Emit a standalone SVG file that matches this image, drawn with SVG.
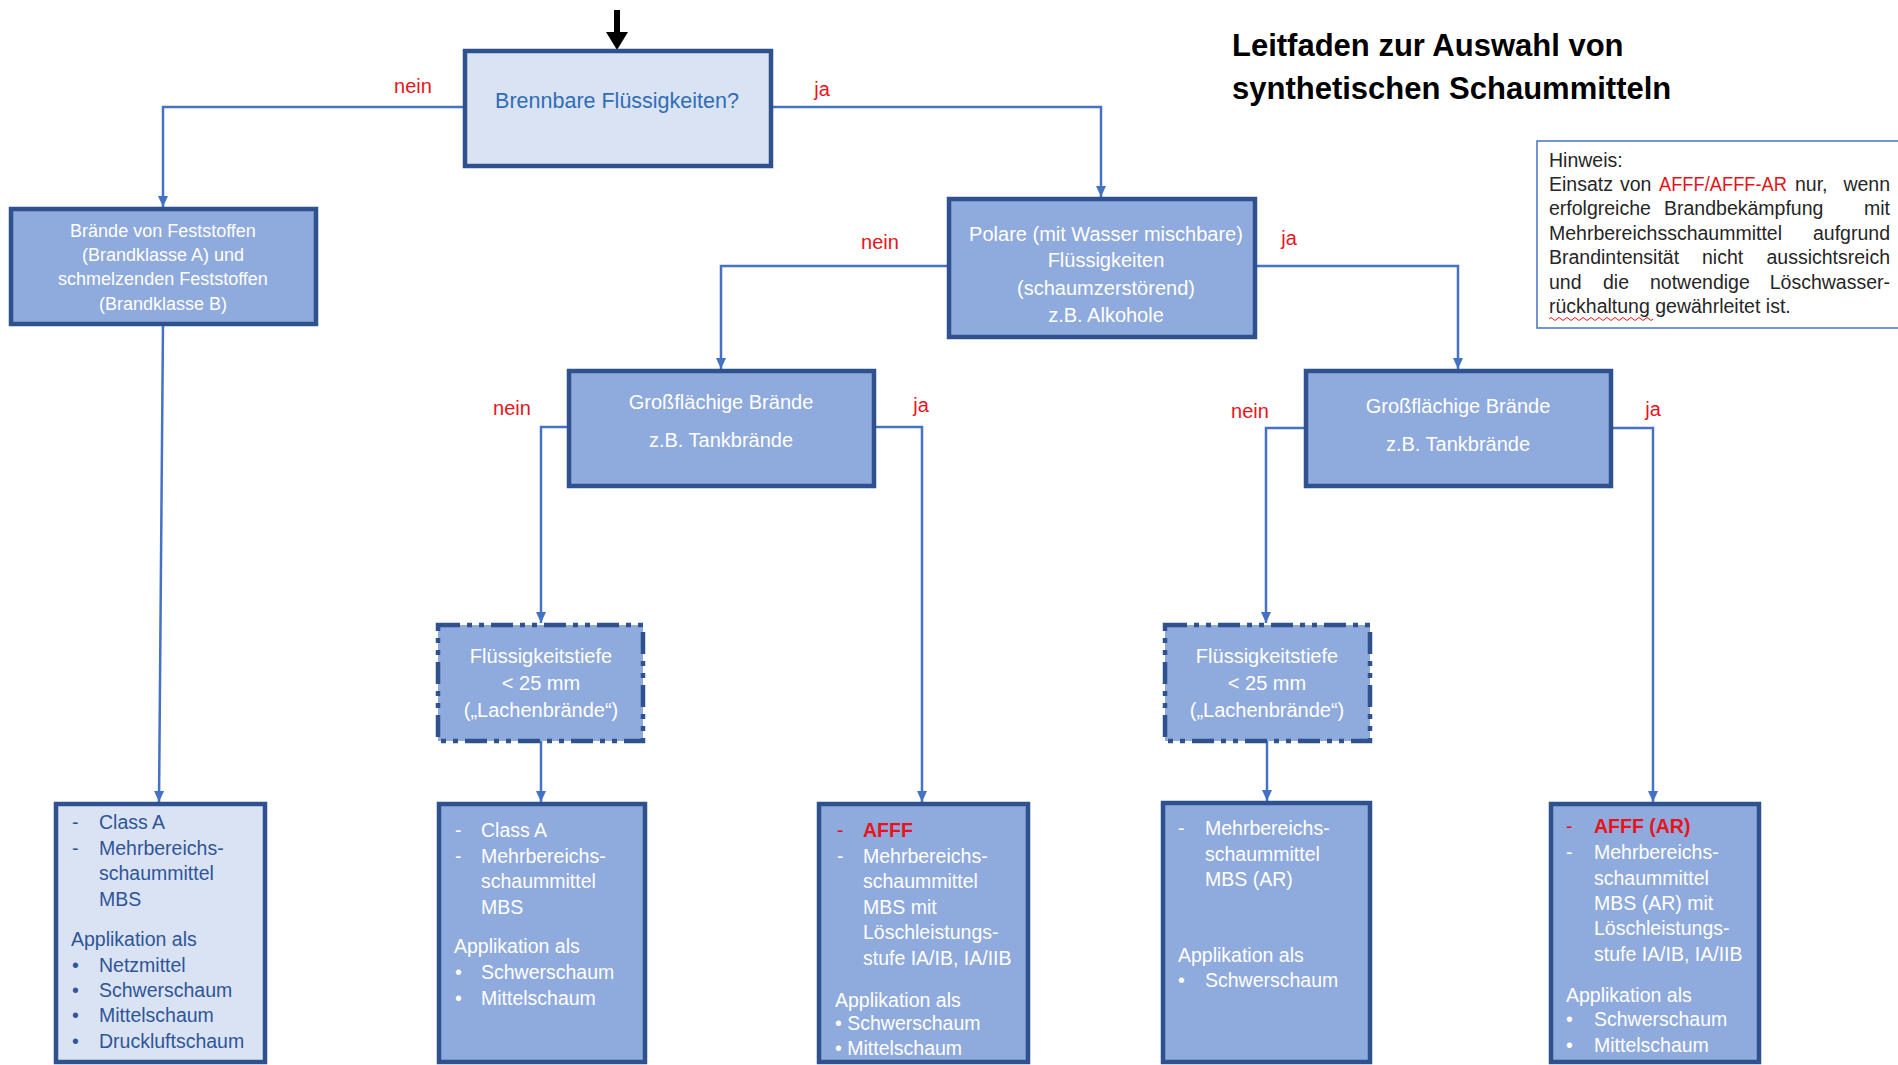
<svg xmlns="http://www.w3.org/2000/svg" width="1898" height="1065" viewBox="0 0 1898 1065">
<defs>
<marker id="arr" markerWidth="12" markerHeight="12" refX="11" refY="6" orient="auto" markerUnits="userSpaceOnUse">
<path d="M0,1 L11,6 L0,11 Z" fill="#4472c4"/>
</marker>
<style>
text{font-family:"Liberation Sans",Arial,sans-serif}
.box{fill:#8faadc;stroke:#2f528f;stroke-width:4.5}
.light{fill:#dae3f3;stroke:#2f528f;stroke-width:4.5}
.dash{fill:#8faadc;stroke:#2f528f;stroke-width:4.5;stroke-dasharray:22 7 5 7 5 7}
.wt{fill:#ffffff}
.c{text-anchor:middle}
.lbl{fill:#e8141c;font-size:20px;text-anchor:middle}
.conn{fill:none;stroke:#4472c4;stroke-width:2.5}
.b{font-size:19.5px}
.hw{font-size:19.5px;fill:#262626}
.red,.hw.red{fill:#e8141c}
.end{text-anchor:end}
</style>
</defs>
<rect x="0" y="0" width="1898" height="1065" fill="#ffffff"/>

<g id="title">
<text x="1232" y="56" font-size="31" font-weight="bold" fill="#000">Leitfaden zur Auswahl von</text>
<text x="1232" y="99" font-size="31" font-weight="bold" fill="#000">synthetischen Schaummitteln</text>
</g>

<g id="hinweis">
<rect x="1537" y="141" width="362" height="187" fill="#ffffff" stroke="#4472c4" stroke-width="1.5"/>
<text class="hw" x="1549" y="167">Hinweis:</text>
<text class="hw" x="1549" y="191">Einsatz</text>
<text class="hw" x="1620" y="191">von</text>
<text class="hw red" x="1659" y="191" textLength="128" lengthAdjust="spacingAndGlyphs">AFFF/AFFF-AR</text>
<text class="hw" x="1795" y="191">nur,</text>
<text class="hw end" x="1890" y="191">wenn</text>
<text class="hw" x="1549" y="215">erfolgreiche</text>
<text class="hw" x="1664" y="215">Brandbekämpfung</text>
<text class="hw end" x="1890" y="215">mit</text>
<text class="hw" x="1549" y="240">Mehrbereichsschaummittel</text>
<text class="hw end" x="1890" y="240">aufgrund</text>
<text class="hw" x="1549" y="264">Brandintensität</text>
<text class="hw" x="1702" y="264">nicht</text>
<text class="hw end" x="1890" y="264">aussichtsreich</text>
<text class="hw" x="1549" y="289">und</text>
<text class="hw" x="1603" y="289">die</text>
<text class="hw" x="1650" y="289">notwendige</text>
<text class="hw end" x="1890" y="289">Löschwasser-</text>
<text class="hw" x="1549" y="313">rückhaltung gewährleitet ist.</text>
<path d="M1549,319 q2,-3 4,0 t4,0 t4,0 t4,0 t4,0 t4,0 t4,0 t4,0 t4,0 t4,0 t4,0 t4,0 t4,0 t4,0 t4,0 t4,0 t4,0 t4,0 t4,0 t4,0 t4,0 t4,0 t4,0 t4,0 t4,0 t4,0" fill="none" stroke="#e8141c" stroke-width="1"/>
</g>

<g id="connectors">
<line x1="617" y1="10" x2="617" y2="34" stroke="#000" stroke-width="6"/>
<polygon points="606,32 628,32 617,50" fill="#000"/>
<polyline class="conn" points="465,107 163,107 163,207" marker-end="url(#arr)"/>
<polyline class="conn" points="771,107 1101,107 1101,197" marker-end="url(#arr)"/>
<polyline class="conn" points="163,324 159,802" marker-end="url(#arr)"/>
<polyline class="conn" points="949,266 721,266 721,369" marker-end="url(#arr)"/>
<polyline class="conn" points="1255,266 1458,266 1458,369" marker-end="url(#arr)"/>
<polyline class="conn" points="569,427 541,427 541,623" marker-end="url(#arr)"/>
<polyline class="conn" points="874,427 922,427 922,802" marker-end="url(#arr)"/>
<polyline class="conn" points="1306,428 1266,428 1266,623" marker-end="url(#arr)"/>
<polyline class="conn" points="1611,428 1653,428 1653,802" marker-end="url(#arr)"/>
<polyline class="conn" points="541,741 541,802" marker-end="url(#arr)"/>
<polyline class="conn" points="1267,741 1267,801" marker-end="url(#arr)"/>
<text class="lbl" x="413" y="93">nein</text>
<text class="lbl" x="822" y="96">ja</text>
<text class="lbl" x="880" y="249">nein</text>
<text class="lbl" x="1289" y="245">ja</text>
<text class="lbl" x="512" y="415">nein</text>
<text class="lbl" x="921" y="412">ja</text>
<text class="lbl" x="1250" y="418">nein</text>
<text class="lbl" x="1653" y="416">ja</text>
</g>

<g id="n-brennbar">
<rect class="light" x="465" y="51" width="306" height="115"/>
<text class="c" x="617" y="108" font-size="21.5" fill="#2f6db5">Brennbare Flüssigkeiten?</text>
</g>

<g id="n-feststoffe">
<rect class="box" x="11" y="209" width="305" height="115"/>
<g class="wt c" font-size="18">
<text x="163" y="237">Brände von Feststoffen</text>
<text x="163" y="261">(Brandklasse A) und</text>
<text x="163" y="285">schmelzenden Feststoffen</text>
<text x="163" y="310">(Brandklasse B)</text>
</g>
</g>

<g id="n-polare">
<rect class="box" x="949" y="199" width="306" height="138"/>
<g class="wt c" font-size="20">
<text x="1106" y="241">Polare (mit Wasser mischbare)</text>
<text x="1106" y="267">Flüssigkeiten</text>
<text x="1106" y="295">(schaumzerstörend)</text>
<text x="1106" y="322">z.B. Alkohole</text>
</g>
</g>

<g id="n-gross-links">
<rect class="box" x="569" y="371" width="305" height="115"/>
<g class="wt c" font-size="20">
<text x="721" y="409">Großflächige Brände</text>
<text x="721" y="447">z.B. Tankbrände</text>
</g>
</g>

<g id="n-gross-rechts">
<rect class="box" x="1306" y="371" width="305" height="115"/>
<g class="wt c" font-size="20">
<text x="1458" y="413">Großflächige Brände</text>
<text x="1458" y="451">z.B. Tankbrände</text>
</g>
</g>

<g id="n-tiefe-links">
<rect class="dash" x="438" y="625" width="205" height="116"/>
<g class="wt c" font-size="20">
<text x="541" y="663">Flüssigkeitstiefe</text>
<text x="541" y="690">&lt; 25 mm</text>
<text x="541" y="717">(„Lachenbrände“)</text>
</g>
</g>

<g id="n-tiefe-rechts">
<rect class="dash" x="1165" y="625" width="205" height="116"/>
<g class="wt c" font-size="20">
<text x="1267" y="663">Flüssigkeitstiefe</text>
<text x="1267" y="690">&lt; 25 mm</text>
<text x="1267" y="717">(„Lachenbrände“)</text>
</g>
</g>

<g id="n-classA-fest">
<rect class="light" x="56" y="804" width="209" height="258"/>
<g class="b" fill="#2f5597">
<text x="72" y="829">-</text><text x="99" y="829">Class A</text>
<text x="72" y="855">-</text><text x="99" y="855">Mehrbereichs-</text>
<text x="99" y="880">schaummittel</text>
<text x="99" y="906">MBS</text>
<text x="71" y="946">Applikation als</text>
<text x="72" y="972">•</text><text x="99" y="972">Netzmittel</text>
<text x="72" y="997">•</text><text x="99" y="997">Schwerschaum</text>
<text x="72" y="1022">•</text><text x="99" y="1022">Mittelschaum</text>
<text x="72" y="1048">•</text><text x="99" y="1048">Druckluftschaum</text>
</g>
</g>

<g id="n-classA-lachen">
<rect class="box" x="439" y="804" width="206" height="258"/>
<g class="b wt">
<text x="455" y="837">-</text><text x="481" y="837">Class A</text>
<text x="455" y="863">-</text><text x="481" y="863">Mehrbereichs-</text>
<text x="481" y="888">schaummittel</text>
<text x="481" y="914">MBS</text>
<text x="454" y="953">Applikation als</text>
<text x="455" y="979">•</text><text x="481" y="979">Schwerschaum</text>
<text x="455" y="1005">•</text><text x="481" y="1005">Mittelschaum</text>
</g>
</g>

<g id="n-afff">
<rect class="box" x="819" y="804" width="209" height="258"/>
<g class="b wt">
<text x="837" y="837" class="red">-</text><text x="863" y="837" class="red" font-weight="bold">AFFF</text>
<text x="837" y="863">-</text><text x="863" y="863">Mehrbereichs-</text>
<text x="863" y="888">schaummittel</text>
<text x="863" y="914">MBS mit</text>
<text x="863" y="939">Löschleistungs-</text>
<text x="863" y="965">stufe IA/IB, IA/IIB</text>
<text x="835" y="1007">Applikation als</text>
<text x="835" y="1030">• Schwerschaum</text>
<text x="835" y="1055">• Mittelschaum</text>
</g>
</g>

<g id="n-mbs-ar">
<rect class="box" x="1163" y="803" width="207" height="259"/>
<g class="b wt">
<text x="1178" y="835">-</text><text x="1205" y="835">Mehrbereichs-</text>
<text x="1205" y="861">schaummittel</text>
<text x="1205" y="886">MBS (AR)</text>
<text x="1178" y="962">Applikation als</text>
<text x="1178" y="987">•</text><text x="1205" y="987">Schwerschaum</text>
</g>
</g>

<g id="n-afff-ar">
<rect class="box" x="1551" y="804" width="208" height="258"/>
<g class="b wt">
<text x="1566" y="833" class="red">-</text><text x="1594" y="833" class="red" font-weight="bold">AFFF (AR)</text>
<text x="1566" y="859">-</text><text x="1594" y="859">Mehrbereichs-</text>
<text x="1594" y="885">schaummittel</text>
<text x="1594" y="910">MBS (AR) mit</text>
<text x="1594" y="935">Löschleistungs-</text>
<text x="1594" y="961">stufe IA/IB,  IA/IIB</text>
<text x="1566" y="1002">Applikation als</text>
<text x="1566" y="1026">•</text><text x="1594" y="1026">Schwerschaum</text>
<text x="1566" y="1052">•</text><text x="1594" y="1052">Mittelschaum</text>
</g>
</g>
</svg>
